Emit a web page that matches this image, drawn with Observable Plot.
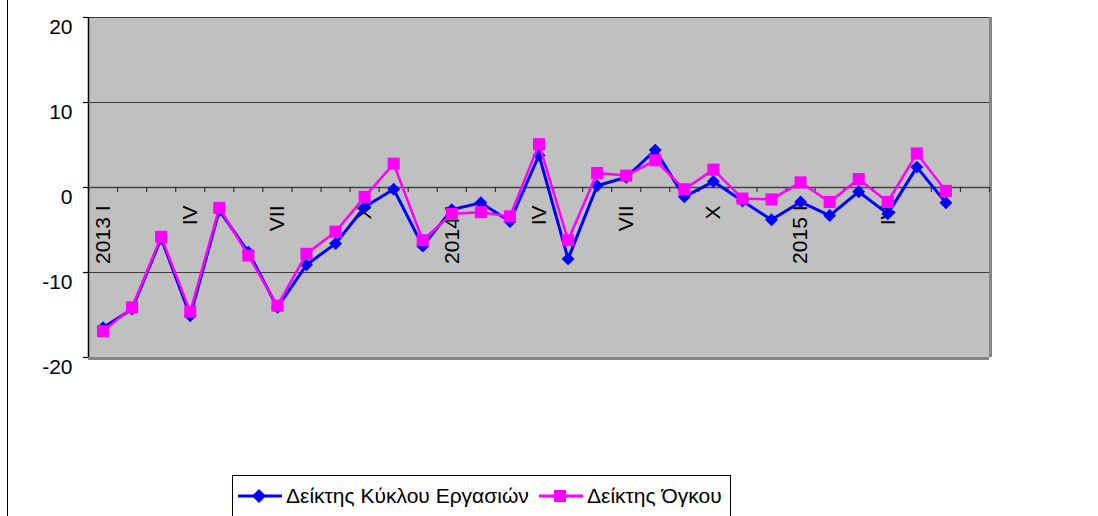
<!DOCTYPE html>
<html>
<head>
<meta charset="utf-8">
<script src="https://cdn.jsdelivr.net/npm/d3@7"></script>
<script src="https://cdn.jsdelivr.net/npm/@observablehq/plot@0.6"></script>
<style>
  html, body { margin: 0; padding: 0; background: #fff; }
  body { width: 1098px; height: 516px; overflow: hidden; position: relative; font-family: "Liberation Sans", Arial, sans-serif; }
  #leftline { position: absolute; left: 7px; top: 0; width: 1px; height: 516px; background: #000; }
  #chart { position: absolute; left: 0; top: 0; }
  #legend { position: absolute; left: 232px; top: 475px; width: 499px; height: 60px; border: 1px solid #000; background: #fff; box-sizing: border-box; }
  .item { position: absolute; top: 8px; display: flex; align-items: center; font-size: 21px; color: #000; white-space: nowrap; }
  .item svg { margin-right: 4px; }
</style>
</head>
<body>
<div id="leftline"></div>
<div id="chart"></div>
<div id="legend"></div>
<script>
// Period categories (31 slots; last has no data)
const categories = [
  "2013 I","2013 II","2013 III","2013 IV","2013 V","2013 VI","2013 VII","2013 VIII","2013 IX","2013 X","2013 XI","2013 XII",
  "2014 I","2014 II","2014 III","2014 IV","2014 V","2014 VI","2014 VII","2014 VIII","2014 IX","2014 X","2014 XI","2014 XII",
  "2015 I","2015 II","2015 III","2015 IV","2015 V","2015 VI","2015 VII"
];
// Tick labels shown on the axis (blank = none)
const tickLabels = [
  "2013 I","","","IV","","","VII","","","X","","",
  "2014 I","","","IV","","","VII","","","X","","",
  "2015 I","","","IV","","",""
];
const seriesNames = ["Δείκτης Κύκλου Εργασιών", "Δείκτης Όγκου"];
const turnover = [-16.5,-14.3,-6.0,-15.1,-2.7,-7.6,-14.1,-9.1,-6.6,-2.3,-0.2,-6.9,-2.6,-1.8,-4.0,3.8,-8.4,0.2,1.2,4.4,-1.1,0.7,-1.6,-3.8,-1.7,-3.3,-0.5,-3.1,2.4,-1.8];
const volume   = [-16.9,-14.1,-5.8,-14.6,-2.4,-8.0,-13.9,-7.8,-5.2,-1.1,2.8,-6.2,-3.1,-2.9,-3.4,5.1,-6.2,1.7,1.4,3.2,-0.2,2.1,-1.3,-1.4,0.6,-1.7,1.0,-1.7,4.0,-0.4];
const yTicks = [-20, -10, 0, 10, 20];
const yGrid = [-10, 10, 20];

const colors = ["#0000ff", "#ff00ff"];

const tData = turnover.map((v, i) => ({i, v}));
const vData = volume.map((v, i) => ({i, v}));
const n = categories.length;
const boundaries = d3.range(n + 1).map(i => i - 0.5);
const labelData = tickLabels.map((t, i) => ({i, t})).filter(d => d.t !== "");

const font = "Liberation Sans, Arial, sans-serif";

const chart = Plot.plot({
  width: 1098,
  height: 475,
  marginLeft: 88,
  marginRight: 109,
  marginTop: 17,
  marginBottom: 118,
  style: {fontFamily: font, fontSize: "21px", background: "transparent", overflow: "visible", color: "#000"},
  x: {type: "linear", domain: [-0.5, n - 0.5], axis: null},
  y: {domain: [-20, 20], axis: null},
  marks: [
    Plot.frame({fill: "#c0c0c0", stroke: null}),
    Plot.ruleY(yGrid, {y: d => d, stroke: "#3c3c3c", strokeWidth: 1.2}),
    Plot.ruleY([-20], {y: d => d, stroke: "#858585", strokeWidth: 3, dy: 1}),
    Plot.ruleX([n - 0.5], {x: d => d, stroke: "#858585", strokeWidth: 3, dx: 1}),
    Plot.ruleY([0], {y: d => d, stroke: "#444", strokeWidth: 1.5}),
    Plot.ruleX(boundaries, {x: d => d, y1: () => 0, y2: () => 0, insetBottom: -5, stroke: "#333", strokeWidth: 1.2}),
    Plot.ruleX([-0.5], {x: d => d, stroke: "#000", strokeWidth: 1.5}),
    Plot.ruleY(yTicks, {y: d => d, x1: () => -0.5, x2: () => -0.5, insetLeft: -5, stroke: "#000", strokeWidth: 1.2}),
    Plot.axisY({ticks: yTicks, tickSize: 0, tickPadding: 16, dy: 10, fontSize: 21, label: null, tickFormat: d => String(d)}),
    Plot.text(labelData, {x: "i", y: () => 0, text: "t", rotate: -90, textAnchor: "end", dy: 18, fontSize: 21, fill: "#000"}),
    Plot.line(tData, {x: "i", y: "v", stroke: colors[0], strokeWidth: 3}),
    Plot.dot(tData, {x: "i", y: "v", symbol: "diamond2", r: 5.8, fill: colors[0], stroke: null}),
    Plot.line(vData, {x: "i", y: "v", stroke: colors[1], strokeWidth: 2.5}),
    Plot.dot(vData, {x: "i", y: "v", symbol: "square", r: 6.8, fill: colors[1], stroke: null})
  ]
});
document.getElementById("chart").appendChild(chart);

// Legend
const legend = document.getElementById("legend");
const shapes = [
  '<polygon points="21,2 28,9 21,16 14,9" />',
  '<rect x="15" y="3" width="12" height="12" />'
];
const lefts = [5, 306];
seriesNames.forEach((name, k) => {
  const div = document.createElement("div");
  div.className = "item";
  div.style.left = lefts[k] + "px";
  div.innerHTML = `<svg width="44" height="18"><line x1="0" y1="9" x2="44" y2="9" stroke="${colors[k]}" stroke-width="3"/><g fill="${colors[k]}">${shapes[k]}</g></svg><span>${name}</span>`;
  legend.appendChild(div);
});
</script>
</body>
</html>
